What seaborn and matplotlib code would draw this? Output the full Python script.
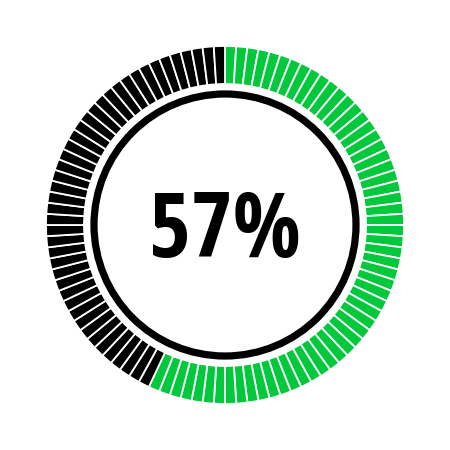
import seaborn as sns
import matplotlib.pyplot as plt
from matplotlib.patches import Circle

# gauge data
value = 57          # percent shown
n_segments = 100    # one tick per percent
label = "57%"

GREEN = "#02c83c"
BLACK = "#000000"

sns.set_theme(style="white")
plt.rcParams["font.family"] = ["Open Sans Condensed", "Roboto Condensed",
                               "Noto Sans Condensed", "Roboto", "DejaVu Sans"]

fig = plt.figure(figsize=(4.5, 4.5), dpi=100)
ax = fig.add_axes([0, 0, 1, 1])

# segmented ring: clockwise from 12 o'clock, first `value` ticks green
colors = [GREEN if i < value else BLACK for i in range(n_segments)]
ax.pie([1] * n_segments, colors=colors, startangle=90, counterclock=False,
       radius=179, wedgeprops=dict(width=38, edgecolor="white", linewidth=1.3))

# inner ring outline
ax.add_patch(Circle((0, 0), 131, fill=False, edgecolor=BLACK, linewidth=5.2))

ax.text(0, -9, label, ha="center", va="center", fontsize=65, fontweight="bold",
        color=BLACK)

ax.set_xlim(-225, 225)
ax.set_ylim(-225, 225)
ax.set_aspect("equal")
ax.axis("off")

fig.savefig("out.png", dpi=100, facecolor="white")
